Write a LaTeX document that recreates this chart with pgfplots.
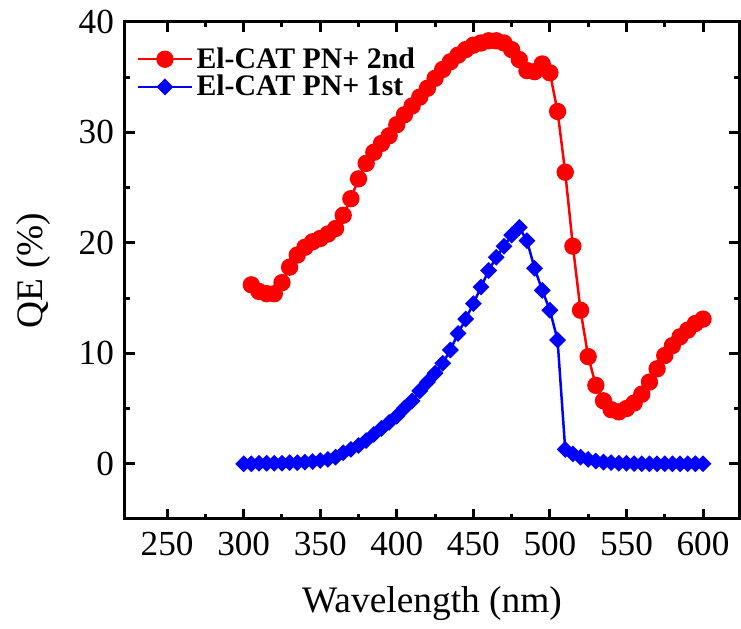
\documentclass[border=0pt]{standalone}
\usepackage{fontspec}
\setmainfont{Liberation Serif}
\usepackage{pgfplots}
\pgfplotsset{compat=1.18}
\pgfplotstableread{
x y
305 16.2
310 15.6
315 15.4
320 15.4
325 16.4
330 17.8
335 18.9
340 19.6
345 20.1
350 20.4
355 20.8
360 21.3
365 22.5
370 24.0
375 25.8
380 27.2
385 28.2
390 29.0
395 29.7
400 30.7
405 31.6
410 32.4
415 33.2
420 34.0
425 34.9
430 35.7
435 36.4
440 37.0
445 37.5
450 37.9
455 38.1
460 38.3
465 38.3
470 38.1
475 37.5
480 36.6
485 35.6
490 35.5
495 36.2
500 35.4
505 31.9
510 26.4
515 19.7
520 13.9
525 9.7
530 7.1
535 5.7
540 4.9
545 4.7
550 5.0
555 5.5
560 6.3
565 7.4
570 8.6
575 9.8
580 10.7
585 11.5
590 12.1
595 12.7
600 13.1
}\secondrun
\pgfplotstableread{
x y
300 0
305 0
310 0.05
315 0.05
320 0.05
325 0.05
330 0.1
335 0.1
340 0.15
345 0.2
350 0.3
355 0.4
360 0.6
365 1.0
370 1.3
375 1.65
380 2.1
385 2.65
390 3.2
395 3.75
400 4.3
405 5.05
410 5.7
415 6.6
420 7.4
425 8.2
430 9.1
435 10.3
440 11.8
445 13.1
450 14.5
455 16.0
460 17.5
465 18.7
470 19.7
475 20.7
480 21.4
485 20.2
490 17.7
495 15.7
500 13.9
505 11.2
510 1.3
515 0.9
520 0.6
525 0.4
530 0.25
535 0.15
540 0.1
545 0.05
550 0.05
555 0.02
560 0
565 0
570 0
575 0
580 0
585 0
590 0
595 0
600 0
}\firstrun
\begin{document}
\begin{tikzpicture}
\begin{axis}[name=ax, scale only axis, width=307pt, height=248.5pt,
  xmin=222.5, xmax=623.5, ymin=-5, ymax=40,
  xtick={250,300,...,600}, ytick={0,10,...,40},
  minor x tick num=1, minor y tick num=1,
  tick align=inside, major tick length=5pt, minor tick length=2.5pt,
  axis line style={line width=1.5pt},
  major tick style={line width=1.5pt, black},
  minor tick style={line width=1.5pt, black},
  /pgf/number format/assume math mode=true,
  tick label style={font=\fontsize{17.6}{19}\selectfont},
  xticklabel style={yshift=-3pt},
  yticklabel style={xshift=-2pt},
  xlabel={Wavelength (nm)}, ylabel={QE (\%)},
  every axis x label/.style={at={(axis description cs:0.5,-0.171)}, anchor=center, font=\fontsize{18.7}{22}\selectfont},
  every axis y label/.style={at={(axis description cs:-0.1498,0.5)}, rotate=90, anchor=center, font=\fontsize{18.7}{22}\selectfont},
  legend cell align=left,
  legend image code/.code={\draw[mark repeat=2,mark phase=2,#1] plot coordinates {(0cm,0cm) (0.48cm,0cm) (0.96cm,0cm)};},
  legend style={at={(axis description cs:0,1)}, anchor=north west, xshift=2.5pt, yshift=-9pt, draw=none, fill=none,
    font=\fontsize{14.9}{17}\bfseries\selectfont, row sep=-1pt,
    nodes={inner sep=1.5pt}},
]
\addplot[red, line width=1.25pt, mark=*, mark size=3.7pt, mark options={solid, fill=red, draw=red}] table[x=x,y=y] {\secondrun};
\addlegendentry{El-CAT PN+ 2nd}
\addplot[blue, line width=1.25pt, mark=square*, mark size=2.35pt, mark options={solid, fill=blue, draw=blue, rotate=45}] table[x=x,y=y] {\firstrun};
\addlegendentry{El-CAT PN+ 1st}
\end{axis}
\pgfresetboundingbox
\path ([xshift=-62.5pt,yshift=-55pt]ax.south west) rectangle ([xshift=1pt,yshift=11pt]ax.north east);
\end{tikzpicture}
\end{document}
